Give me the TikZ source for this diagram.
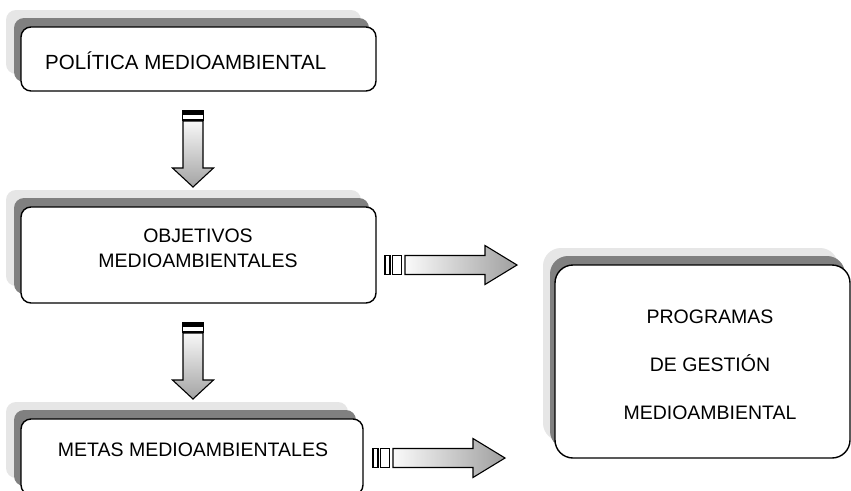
\documentclass[tikz,border=0pt]{standalone}
\usepackage{fontspec}
\setmainfont{Liberation Sans}
\usetikzlibrary{shadows,calc}
\definecolor{lightsh}{HTML}{E6E6E6}
\definecolor{darksh}{HTML}{808080}
\tikzset{
  box/.style={draw=black, line width=1.4pt, fill=white, rounded corners=10pt,
    inner sep=0pt, outer sep=0pt,
    general shadow={fill=lightsh, shadow xshift=-15pt, shadow yshift=17pt},
    general shadow={fill=darksh, shadow xshift=-7pt, shadow yshift=9pt}},
  bigbox/.style={draw=black, line width=1.4pt, fill=white, rounded corners=18pt,
    inner sep=0pt, outer sep=0pt,
    general shadow={fill=lightsh, shadow xshift=-12pt, shadow yshift=17pt},
    general shadow={fill=darksh, shadow xshift=-5pt, shadow yshift=9pt}},
  lbl/.style={inner sep=0pt, font=\fontsize{19.5}{25}\selectfont, align=center},
  arrline/.style={draw=black, line width=1.1pt, line join=miter},
}
\newcommand{\fancydown}[1]{%
  \begin{scope}[shift={(#1)}]
    \filldraw[arrline, fill=black] (-10.5,0) rectangle (10.5,2.5);
    \filldraw[arrline, fill=white] (-10.5,3.5) rectangle (10.5,9);
    \shade[top color=gray!6, bottom color=gray!72]
      (-10,10) -- (10,10) -- (10,57) -- (20.5,57) -- (0,76) -- (-20.5,57) -- (-10,57) -- cycle;
    \draw[arrline]
      (-10,10) -- (10,10) -- (10,57) -- (20.5,57) -- (0,76) -- (-20.5,57) -- (-10,57) -- cycle;
  \end{scope}}
\newcommand{\fancyright}[1]{%
  \begin{scope}[shift={(#1)}]
    \filldraw[arrline, fill=white] (0,-9.5) rectangle (5,9.5);
    \filldraw[arrline, fill=white] (7.5,-9.5) rectangle (16.5,9.5);
    \shade[left color=gray!4, right color=gray!75]
      (20,-9.5) -- (100,-9.5) -- (100,-19.5) -- (132,0) -- (100,19.5) -- (100,9.5) -- (20,9.5) -- cycle;
    \draw[arrline]
      (20,-9.5) -- (100,-9.5) -- (100,-19.5) -- (132,0) -- (100,19.5) -- (100,9.5) -- (20,9.5) -- cycle;
  \end{scope}}
\begin{document}
\begin{tikzpicture}[x=1pt,y=-1pt]
\clip (0,0) rectangle (851,490);
\fill[white] (0,0) rectangle (851,490);
% boxes
\node[box, minimum width=355pt, minimum height=64pt] (pol) at (198.5,59) {};
\node[box, minimum width=355pt, minimum height=96pt] (obj) at (198.5,255) {};
\node[box, minimum width=342pt, minimum height=76pt] (met) at (192,457) {};
\node[bigbox, minimum width=295pt, minimum height=193pt] (prog) at (702.5,361.5) {};
% labels
\node[lbl, anchor=west, font=\fontsize{20.5}{25}\selectfont] (polt) at (45,61) {POLÍTICA MEDIOAMBIENTAL};
\node[lbl] (objt) at (198,248) {OBJETIVOS\\MEDIOAMBIENTALES};
\node[lbl] (mett) at (193,450) {METAS MEDIOAMBIENTALES};
\node[lbl, font=\fontsize{19.5}{48}\selectfont] (progt) at (710,365) {PROGRAMAS\\DE GESTIÓN\\MEDIOAMBIENTAL};
% arrows
\coordinate (d1) at ($(pol.south)+(-5.5,20)$);
\coordinate (d2) at ($(obj.south)+(-5.5,20)$);
\coordinate (r1) at ($(obj.east)+(9,10)$);
\coordinate (r2) at ($(met.east)+(10,1)$);
\fancydown{d1}
\fancydown{d2}
\fancyright{r1}
\fancyright{r2}
\end{tikzpicture}
\end{document}
